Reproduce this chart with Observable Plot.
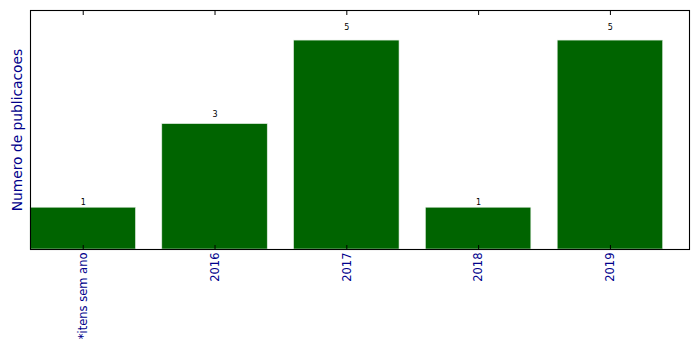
<!DOCTYPE html>
<html><head><meta charset="utf-8">
<script src="https://cdn.jsdelivr.net/npm/d3@7"></script>
<script src="https://cdn.jsdelivr.net/npm/@observablehq/plot@0.6"></script>
<style>body{margin:0;background:#fff}</style>
</head><body><div id="chart"></div>
<script>
const categories = ["*itens sem ano", "2016", "2017", "2018", "2019"];
const counts = [1, 3, 5, 1, 5];
const yLabel = "Numero de publicacoes";
const data = categories.map((c, i) => ({cat: c, n: counts[i]}));

const plot = Plot.plot({
  width: 699, height: 349,
  marginLeft: 30, marginRight: 10, marginTop: 10, marginBottom: 100,
  style: {fontFamily: "DejaVu Sans", background: "#fff"},
  x: {type: "band", domain: categories, paddingInner: 0.2, paddingOuter: 0.1, align: 0, round: false},
  y: {domain: [0, 5.72], axis: null},
  marks: [
    Plot.barY(data, {x: "cat", y: "n", fill: "#006400", stroke: "#e0ece0", strokeWidth: 0.6}),
    Plot.text(data, {x: "cat", y: d => d.n * 1.05, text: d => String(d.n), dy: -3, fontSize: 8, fill: "#000"}),
    Plot.axisX({anchor: "bottom", tickSize: -4, tickPadding: 7, tickRotate: -90, fontSize: 11.5, fill: "#00008b", label: null}),
    Plot.axisX({anchor: "top", tickSize: -4, text: null, label: null}),
    Plot.text([yLabel], {frameAnchor: "left", textAnchor: "middle", text: d => d, rotate: -90, dx: -13, fontSize: 13.8, fill: "#00008b"}),
    Plot.frame({stroke: "#000", strokeWidth: 1.1})
  ]
});
document.getElementById("chart").appendChild(plot);
</script></body></html>
